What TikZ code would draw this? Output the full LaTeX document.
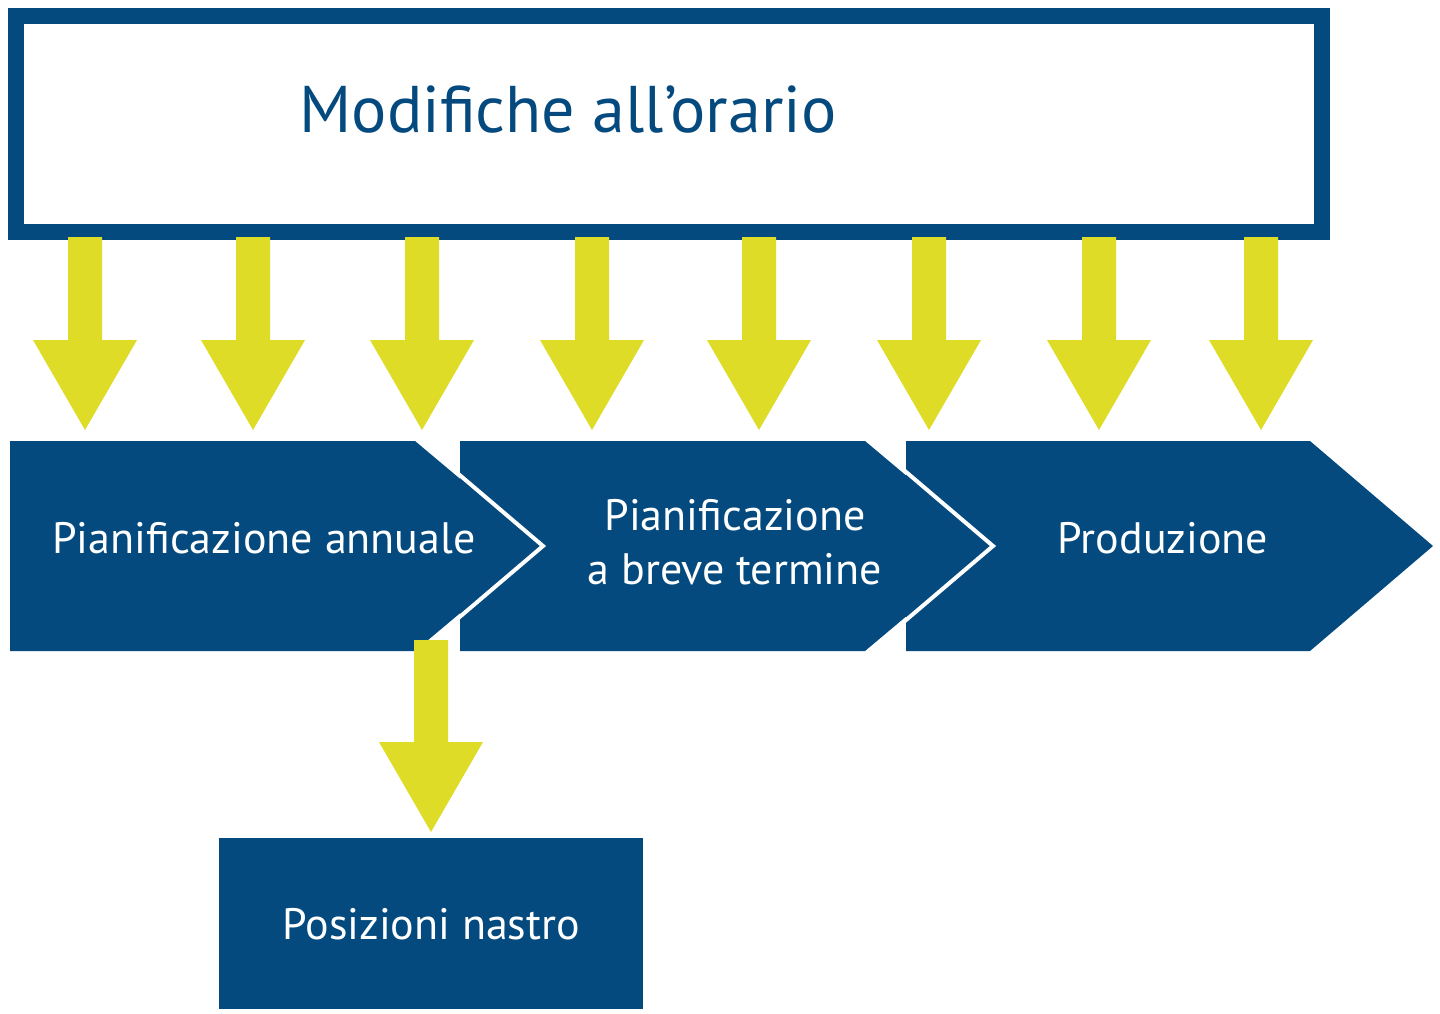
\documentclass[tikz,border=0pt]{standalone}
\usepackage{fontspec}
\setmainfont{PT Sans}
\definecolor{navy}{HTML}{044A7E}
\definecolor{ylw}{HTML}{DEDC26}
\tikzset{
  darr/.style={fill=ylw,draw=none},
  chev/.style={fill=navy,draw=none},
  wtxt/.style={text=white,font=\fontsize{44}{54}\selectfont,align=center},
}
\newcommand{\downarrowat}[4]{% x, ytop, yheadstart, ytip
  \fill[darr] (#1-17,#2) -- (#1+17,#2) -- (#1+17,#3) -- (#1+52,#3) -- (#1,#4) -- (#1-52,#3) -- (#1-17,#3) -- cycle;}
\begin{document}
\begin{tikzpicture}[x=1pt,y=-1pt]
\useasboundingbox (0,0) rectangle (1440,1014);
\fill[white] (0,0) rectangle (1440,1014);
\node[draw=navy,line width=16pt,minimum width=1306pt,minimum height=216pt,anchor=north west] (top) at (8,8) {};
\node[text=navy,font=\fontsize{66}{70}\selectfont] (toptext) at (568,110) {Modifiche all’orario};
\foreach \x in {85,253,422,592,759,929,1099,1261}{\downarrowat{\x}{237}{340}{430}}
\fill[chev] (906,441) -- (1310,441) -- (1433,546) -- (1310,651) -- (906,651) -- cycle;
\fill[chev] (460,441) -- (865,441) -- (990,546) -- (865,651) -- (460,651) -- cycle;
\draw[white,line width=4pt] (865,437) -- (993,546) -- (865,655);
\fill[chev] (10,441) -- (415,441) -- (540,546) -- (415,651) -- (10,651) -- cycle;
\draw[white,line width=4pt] (415,437) -- (543,546) -- (415,655);
\downarrowat{431}{640}{742}{832}
\node[chev,minimum width=424pt,minimum height=171pt,anchor=north west] (pos) at (219,838) {};
\node[wtxt] (c1) at (264,538) {Pianificazione annuale};
\node[wtxt] (c2) at (735,542) {Pianificazione\\a breve termine};
\node[wtxt] (c3) at (1163,538) {Produzione};
\node[wtxt] at (pos.center) {Posizioni nastro};
\end{tikzpicture}
\end{document}
